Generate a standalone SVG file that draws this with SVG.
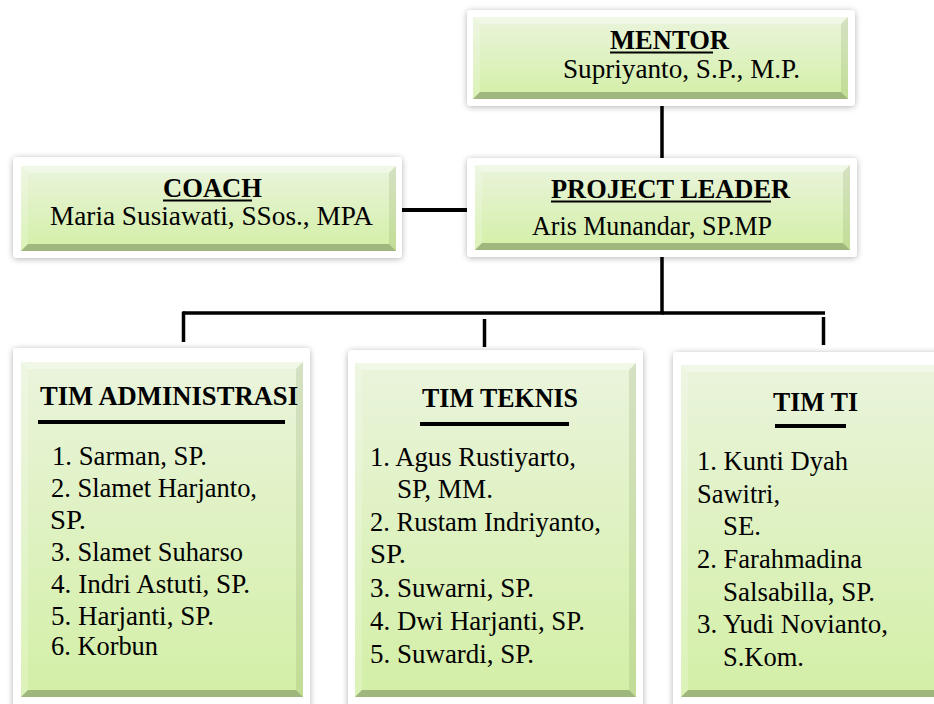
<svg xmlns="http://www.w3.org/2000/svg" width="934" height="704" viewBox="0 0 934 704">
<defs>
<linearGradient id="g" x1="0" y1="0" x2="0" y2="1">
<stop offset="0" stop-color="#eaf4dc"/>
<stop offset="1" stop-color="#d3efa6"/>
</linearGradient>
<filter id="sh" x="-10%" y="-10%" width="120%" height="130%">
<feDropShadow dx="0" dy="1" stdDeviation="3" flood-color="#000" flood-opacity="0.3"/>
</filter>
<style>
.frame{fill:#fff;filter:url(#sh)}
.green{fill:url(#g)}
.bt{fill:#fff;opacity:0.35}
.bl{fill:#fff;opacity:0.2}
.br{fill:#5f7a35;opacity:0.15}
.bb{fill:#4a5a38;opacity:0.38}
.t{font-family:"Liberation Serif","Times New Roman",serif;font-size:27px;fill:#000}
.b{font-weight:bold}
.ul{stroke:#000;stroke-width:2}
.bar{stroke:#000;stroke-width:4}
.ln{stroke:#000;stroke-width:3.5;fill:none}
</style>
</defs>
<rect width="934" height="704" fill="#fff"/>

<g id="connectors">
<line class="ln" x1="662" y1="106" x2="662" y2="158"/>
<line class="ln" x1="402" y1="210" x2="474" y2="210" style="stroke-width:4"/>
<polyline class="ln" points="662,257 662,313 183,313"/>
<line class="ln" x1="662" y1="313" x2="825" y2="313"/>
<line class="ln" x1="183.5" y1="311.5" x2="183.5" y2="342"/>
<line class="ln" x1="484.5" y1="319" x2="484.5" y2="347"/>
<line class="ln" x1="823.5" y1="317" x2="823.5" y2="345"/>
</g>

<g id="mentor">
<rect class="frame" x="467" y="10" width="388" height="96" rx="4"/>
<rect class="green" x="473" y="17" width="375" height="82"/>
<polygon class="bt" points="473,17 848,17 841,24 480,24"/>
<polygon class="bl" points="473,17 480,24 480,92 473,99"/>
<polygon class="br" points="848,17 848,99 841,92 841,24"/>
<polygon class="bb" points="473,99 848,99 841,92 480,92"/>
<text class="t b" x="610" y="49" textLength="119" lengthAdjust="spacingAndGlyphs">MENTOR</text>
<line class="ul" x1="610" y1="52.5" x2="713" y2="52.5"/>
<text class="t" x="563" y="78" textLength="237" lengthAdjust="spacingAndGlyphs">Supriyanto, S.P., M.P.</text>
</g>

<g id="coach">
<rect class="frame" x="13" y="157" width="389" height="101" rx="4"/>
<rect class="green" x="21" y="166" width="375" height="85"/>
<polygon class="bt" points="21,166 396,166 389,173 28,173"/>
<polygon class="bl" points="21,166 28,173 28,244 21,251"/>
<polygon class="br" points="396,166 396,251 389,244 389,173"/>
<polygon class="bb" points="21,251 396,251 389,244 28,244"/>
<text class="t b" x="163" y="197" textLength="99" lengthAdjust="spacingAndGlyphs">COACH</text>
<line class="ul" x1="163" y1="200.5" x2="252" y2="200.5"/>
<text class="t" x="50" y="225" textLength="323" lengthAdjust="spacingAndGlyphs">Maria Susiawati, SSos., MPA</text>
</g>

<g id="project-leader">
<rect class="frame" x="467" y="158" width="390" height="99" rx="4"/>
<rect class="green" x="475" y="165" width="375" height="85"/>
<polygon class="bt" points="475,165 850,165 843,172 482,172"/>
<polygon class="bl" points="475,165 482,172 482,243 475,250"/>
<polygon class="br" points="850,165 850,250 843,243 843,172"/>
<polygon class="bb" points="475,250 850,250 843,243 482,243"/>
<text class="t b" x="551" y="198" textLength="239" lengthAdjust="spacingAndGlyphs">PROJECT LEADER</text>
<line class="ul" x1="551" y1="201.5" x2="771" y2="201.5"/>
<text class="t" x="532" y="235" textLength="240" lengthAdjust="spacingAndGlyphs">Aris Munandar, SP.MP</text>
</g>

<g id="tim-administrasi">
<rect class="frame" x="13" y="348" width="297" height="370" rx="4"/>
<rect class="green" x="21" y="362" width="282" height="335"/>
<polygon class="bt" points="21,362 303,362 296,369 28,369"/>
<polygon class="bl" points="21,362 28,369 28,690 21,697"/>
<polygon class="br" points="303,362 303,697 296,690 296,369"/>
<polygon class="bb" points="21,697 303,697 296,690 28,690"/>
<text class="t b" x="40" y="405" textLength="258" lengthAdjust="spacingAndGlyphs">TIM ADMINISTRASI</text>
<line class="bar" x1="38" y1="422" x2="285" y2="422"/>
<text class="t" x="52" y="465" textLength="155" lengthAdjust="spacingAndGlyphs">1. Sarman, SP.</text>
<text class="t" x="51" y="497" textLength="206" lengthAdjust="spacingAndGlyphs">2. Slamet Harjanto,</text>
<text class="t" x="50" y="529" textLength="36" lengthAdjust="spacingAndGlyphs">SP.</text>
<text class="t" x="51" y="561" textLength="192" lengthAdjust="spacingAndGlyphs">3. Slamet Suharso</text>
<text class="t" x="51" y="593" textLength="199" lengthAdjust="spacingAndGlyphs">4. Indri Astuti, SP.</text>
<text class="t" x="51" y="625" textLength="163" lengthAdjust="spacingAndGlyphs">5. Harjanti, SP.</text>
<text class="t" x="51" y="655" textLength="107" lengthAdjust="spacingAndGlyphs">6. Korbun</text>
</g>

<g id="tim-teknis">
<rect class="frame" x="348" y="350" width="295" height="370" rx="4"/>
<rect class="green" x="355" y="363" width="281" height="334"/>
<polygon class="bt" points="355,363 636,363 629,370 362,370"/>
<polygon class="bl" points="355,363 362,370 362,690 355,697"/>
<polygon class="br" points="636,363 636,697 629,690 629,370"/>
<polygon class="bb" points="355,697 636,697 629,690 362,690"/>
<text class="t b" x="422" y="407" textLength="156" lengthAdjust="spacingAndGlyphs">TIM TEKNIS</text>
<line class="bar" x1="420" y1="424" x2="569" y2="424"/>
<text class="t" x="370" y="466" textLength="206" lengthAdjust="spacingAndGlyphs">1. Agus Rustiyarto,</text>
<text class="t" x="397" y="498" textLength="96" lengthAdjust="spacingAndGlyphs">SP, MM.</text>
<text class="t" x="370" y="531" textLength="231" lengthAdjust="spacingAndGlyphs">2. Rustam Indriyanto,</text>
<text class="t" x="370" y="563" textLength="36" lengthAdjust="spacingAndGlyphs">SP.</text>
<text class="t" x="370" y="597" textLength="164" lengthAdjust="spacingAndGlyphs">3. Suwarni, SP.</text>
<text class="t" x="370" y="630" textLength="215" lengthAdjust="spacingAndGlyphs">4. Dwi Harjanti, SP.</text>
<text class="t" x="370" y="663" textLength="164" lengthAdjust="spacingAndGlyphs">5. Suwardi, SP.</text>
</g>

<g id="tim-ti">
<rect class="frame" x="673" y="352" width="300" height="370" rx="4"/>
<rect class="green" x="681" y="365" width="264" height="332"/>
<polygon class="bt" points="681,365 945,365 938,372 688,372"/>
<polygon class="bl" points="681,365 688,372 688,690 681,697"/>
<polygon class="bb" points="681,697 945,697 938,690 688,690"/>
<text class="t b" x="773" y="411" textLength="85" lengthAdjust="spacingAndGlyphs">TIM TI</text>
<line class="bar" x1="775" y1="426" x2="846" y2="426"/>
<text class="t" x="697" y="470" textLength="151" lengthAdjust="spacingAndGlyphs">1. Kunti Dyah</text>
<text class="t" x="697" y="503" textLength="83" lengthAdjust="spacingAndGlyphs">Sawitri,</text>
<text class="t" x="723" y="535" textLength="38" lengthAdjust="spacingAndGlyphs">SE.</text>
<text class="t" x="697" y="568" textLength="165" lengthAdjust="spacingAndGlyphs">2. Farahmadina</text>
<text class="t" x="723" y="601" textLength="152" lengthAdjust="spacingAndGlyphs">Salsabilla, SP.</text>
<text class="t" x="697" y="633" textLength="191" lengthAdjust="spacingAndGlyphs">3. Yudi Novianto,</text>
<text class="t" x="723" y="666" textLength="81" lengthAdjust="spacingAndGlyphs">S.Kom.</text>
</g>
</svg>
